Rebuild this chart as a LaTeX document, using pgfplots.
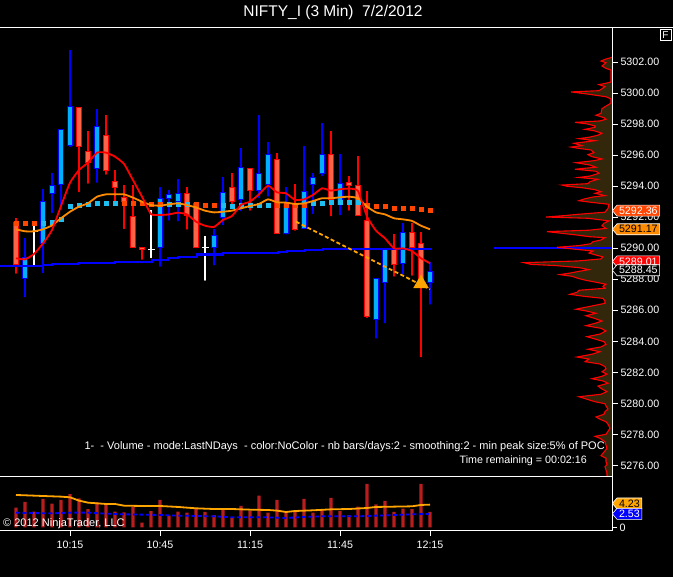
\documentclass[border=0pt]{standalone}
\usepackage{fontspec}
\setmainfont{Liberation Sans}
\usepackage{pgfplots}
\pgfplotsset{compat=1.18}
\usepackage{pgfplotstable}
\usetikzlibrary{shapes.symbols}

\definecolor{upfill}{RGB}{0,176,255}
\definecolor{dnfill}{RGB}{255,99,71}
\definecolor{dotred}{RGB}{255,69,0}
\definecolor{dotcyan}{RGB}{30,190,240}
\definecolor{profbrown}{RGB}{50,38,11}
\definecolor{volred}{RGB}{185,30,30}
\definecolor{darkorng}{RGB}{255,140,0}
\definecolor{lightorng}{RGB}{255,165,0}

\newcommand\tf{\fontsize{10.7}{12}\selectfont}

% candles: bar index, open, high, low, close
\pgfplotstableread{
i o h l c
1 5288.06 5290.64 5286.71 5289.39
3 5290.31 5293.79 5288.27 5293.00
4 5293.54 5294.82 5292.14 5294.05
5 5294.12 5297.66 5292.35 5297.66
6 5296.63 5302.77 5296.37 5299.14
9 5295.15 5298.97 5294.09 5297.85
16 5290.06 5293.92 5288.68 5293.21
17 5293.21 5293.75 5291.65 5293.47
18 5293.00 5294.44 5291.60 5293.54
22 5290.06 5291.26 5288.77 5290.83
23 5291.99 5294.57 5291.35 5293.60
25 5293.11 5296.44 5292.25 5295.21
27 5293.75 5298.59 5293.11 5294.83
28 5294.12 5296.87 5293.20 5296.05
30 5290.96 5293.93 5290.75 5292.79
32 5291.28 5296.59 5291.28 5293.65
33 5294.08 5294.83 5292.08 5294.55
34 5294.83 5298.05 5294.50 5296.05
36 5292.83 5296.07 5292.00 5294.16
40 5285.38 5288.04 5284.05 5288.04
41 5287.82 5289.97 5285.03 5289.97
43 5289.03 5291.60 5288.17 5291.03
46 5287.80 5289.14 5286.24 5288.49
}\upbars

\pgfplotstableread{
i o h l c
0 5291.65 5291.93 5288.23 5288.96
7 5299.08 5299.08 5293.49 5296.54
8 5296.20 5297.55 5294.03 5295.51
10 5297.27 5298.58 5294.61 5295.02
11 5294.29 5295.04 5292.74 5293.92
12 5293.26 5294.07 5291.11 5293.00
13 5292.05 5294.07 5290.00 5290.06
14 5290.06 5290.06 5289.13 5289.93
19 5293.54 5293.92 5291.07 5292.14
20 5292.89 5293.00 5289.88 5290.06
24 5293.93 5294.83 5292.46 5293.00
26 5295.15 5295.15 5292.29 5293.75
29 5295.73 5296.16 5290.92 5290.92
31 5292.79 5294.14 5291.00 5291.22
35 5296.05 5297.55 5291.93 5293.11
37 5294.25 5294.65 5292.29 5294.05
38 5294.03 5295.94 5292.00 5292.08
39 5291.80 5293.69 5285.38 5285.63
42 5289.95 5290.92 5288.04 5288.96
44 5291.03 5291.65 5288.10 5290.06
45 5290.29 5291.03 5282.84 5287.48
}\dnbars

\pgfplotstableread{
i o h l
2 5291.07 5291.43 5288.68
15 5289.93 5292.46 5289.24
21 5290.06 5290.79 5287.78
}\dojibars

% moving averages: red (fast), orange (slow)
\pgfplotstableread{
i r s
0 5289.35 5291.22
1 5289.28 5291.09
2 5289.63 5291.09
3 5290.31 5291.22
4 5291.17 5291.47
5 5292.72 5291.93
6 5294.22 5292.35
7 5295.04 5292.68
8 5295.51 5292.89
9 5296.16 5293.32
10 5296.16 5293.47
11 5295.90 5293.47
12 5295.43 5293.47
13 5294.39 5293.26
14 5293.32 5293.00
15 5292.20 5292.78
16 5292.14 5292.74
17 5292.18 5292.83
18 5292.29 5292.89
19 5292.18 5292.78
20 5291.71 5292.63
21 5291.45 5292.42
22 5291.37 5292.31
23 5291.82 5292.35
24 5292.08 5292.42
25 5292.79 5292.57
26 5293.00 5292.72
27 5293.47 5292.85
28 5294.03 5293.15
29 5293.60 5292.96
30 5293.54 5292.94
31 5293.11 5292.85
32 5293.15 5292.89
33 5293.43 5293.04
34 5293.86 5293.22
35 5293.71 5293.22
36 5293.80 5293.28
37 5293.84 5293.32
38 5293.69 5293.22
39 5292.04 5292.68
40 5291.13 5292.31
41 5290.64 5292.18
42 5289.99 5291.93
43 5289.99 5291.86
44 5289.82 5291.76
45 5289.35 5291.45
46 5289.03 5291.22
}\mas

\pgfplotstableread{
i p
-2 5288.88
3 5288.94
4 5288.98
6.9 5289.05
11 5289.13
15.1 5289.24
16.9 5289.37
18 5289.46
20.1 5289.59
23 5289.67
27 5289.71
29.1 5289.78
30.1 5289.84
32.1 5289.89
34.1 5289.97
46.2 5289.97
}\bluestep

\pgfplotstableread{
i p
0 5291.60
1 5291.60
2 5291.60
12 5292.93
13 5292.93
14 5292.87
15 5292.81
16 5292.81
20 5292.81
21 5292.74
22 5292.74
29 5292.79
30 5292.79
31 5292.79
32 5292.79
39 5292.79
40 5292.68
41 5292.68
42 5292.61
43 5292.61
44 5292.61
45 5292.51
46 5292.42
}\dotsred

\pgfplotstableread{
i p
3 5291.60
4 5291.67
5 5291.90
6 5292.68
7 5292.74
8 5292.83
9 5292.93
10 5292.93
11 5292.93
17 5292.81
18 5292.81
19 5292.83
23 5292.75
24 5292.72
25 5292.79
26 5292.79
27 5292.79
28 5292.79
33 5292.87
34 5292.87
35 5292.94
36 5292.94
37 5292.94
38 5292.94
}\dotscyan

% volume profile: width in px from the price scale, price
\pgfplotstableread{
w p
0 5302.30
7 5302.17
11 5302.06
6 5301.95
10 5301.74
6 5301.59
1 5301.48
1 5300.71
6 5300.63
13 5300.54
7 5300.41
13 5300.15
41 5300.07
30 5299.98
23 5299.92
6 5299.76
1 5299.62
1 5299.36
3 5299.27
7 5299.12
10 5298.99
11 5298.69
16 5298.57
8 5298.41
6 5298.31
12 5298.20
37 5298.11
25 5298.01
17 5297.88
17 5297.79
27 5297.66
18 5297.57
10 5297.41
14 5297.28
23 5297.15
33 5297.06
17 5296.93
38 5296.76
30 5296.61
41 5296.52
34 5296.44
21 5296.33
18 5296.16
24 5296.03
20 5295.90
10 5295.75
18 5295.64
36 5295.51
22 5295.36
16 5295.22
37 5295.09
16 5294.96
13 5294.83
22 5294.65
33 5294.56
14 5294.44
22 5294.29
24 5294.16
50 5294.07
45 5293.99
30 5293.90
17 5293.77
11 5293.64
17 5293.54
7 5293.39
19 5293.30
28 5293.17
33 5293.06
21 5292.96
3 5292.83
4 5292.57
7 5292.32
33 5292.19
48 5292.10
66 5292.01
24 5291.93
3 5291.76
8 5291.61
10 5291.45
6 5291.28
23 5291.16
65 5291.07
50 5290.96
35 5290.85
22 5290.74
7 5290.68
11 5290.53
19 5290.42
21 5290.29
33 5290.17
55 5290.06
39 5289.95
19 5289.82
23 5289.69
16 5289.56
9 5289.44
11 5289.31
34 5289.18
88 5289.07
81 5288.96
56 5288.88
33 5288.75
23 5288.62
33 5288.51
42 5288.40
52 5288.30
40 5288.19
34 5288.06
26 5287.93
16 5287.81
6 5287.68
9 5287.55
7 5287.42
33 5287.29
35 5287.16
42 5287.03
28 5286.90
9 5286.77
7 5286.60
7 5286.45
36 5286.07
26 5285.96
16 5285.81
26 5285.65
18 5285.49
10 5285.31
17 5285.16
26 5285.01
11 5284.84
6 5284.67
12 5284.47
25 5284.30
17 5284.15
8 5283.98
6 5283.81
11 5283.64
24 5283.49
12 5283.33
20 5283.17
35 5282.99
23 5282.86
27 5282.69
12 5282.54
7 5282.37
6 5282.22
10 5282.04
5 5281.89
10 5281.75
20 5281.59
9 5281.45
4 5281.30
14 5281.12
10 5280.93
5 5280.76
11 5280.59
33 5280.43
26 5280.29
17 5280.11
7 5279.98
6 5279.84
4 5279.64
7 5279.47
8 5279.30
16 5279.13
12 5278.98
6 5278.82
4 5278.66
2 5278.40
6 5278.01
17 5277.88
12 5277.75
7 5277.53
6 5277.32
5 5277.10
9 5276.79
11 5276.63
6 5276.47
6 5276.25
5 5276.08
7 5275.92
6 5275.71
5 5275.50
5 5275.33
0 5275.00
}\profile

% volume panel
\pgfplotstableread{
i v
0 3.67
1 4.72
2 2.93
3 5.28
4 4.41
5 5.09
6 6.20
7 5.40
8 3.42
9 4.66
10 4.29
11 2.93
12 2.81
13 3.86
14 0.90
15 3.05
16 5.09
17 2.19
18 2.93
19 2.75
20 3.55
21 2.87
22 2.31
23 3.36
24 1.82
25 3.98
26 3.05
27 5.89
28 2.75
29 5.09
30 2.93
31 2.93
32 5.28
33 2.75
34 3.36
35 5.46
36 3.05
37 2.31
38 3.86
39 8.06
40 4.29
41 4.91
42 2.87
43 3.48
44 3.42
45 8.06
46 2.87
}\vol

\pgfplotstableread{
i v
0 6.02
1 5.96
3 5.83
5 5.71
6 5.59
7 4.97
8 4.60
10 4.35
11 4.35
12 4.04
14 3.98
16 3.98
18 3.80
20 3.55
22 3.42
24 3.42
26 3.30
28 3.24
29 3.12
30 2.87
31 3.05
33 3.18
35 3.36
37 3.42
39 3.61
40 3.80
42 3.86
44 3.92
45 4.17
46 4.23
}\volslow

\pgfplotstableread{
i v
0 2.75
1 2.69
4 2.62
6 2.75
8 2.75
10 2.56
12 2.44
14 2.38
16 2.31
18 2.19
20 2.13
22 2.07
24 1.88
26 1.88
28 1.88
30 1.76
32 1.94
34 2.07
36 2.07
38 2.07
40 2.19
42 2.31
44 2.44
46 2.53
}\volfast

\pgfplotsset{
  pane/.style={scale only axis, width=614pt, height=449pt,
    at={(-2pt,100pt)}, anchor=south west,
    xmin=-2, xmax=66.222, ymin=5275.26, ymax=5304.19},
}
\tikzset{
  pricetag/.style={shape=signal, signal to=west, signal pointer angle=100,
    draw=white, line width=0.6pt, inner xsep=2pt, inner ysep=0.5pt,
    minimum height=11pt, anchor=west, font=\tf},
}

\begin{document}
\begin{tikzpicture}
\fill[black] (0,0) rectangle (673pt,577pt);
\begin{scope}
\clip (0,0) rectangle (673pt,577pt);

% volume profile on the right
\begin{axis}[pane, hide axis, xmin=0, xmax=614, x dir=reverse]
\addplot[fill=profbrown, draw=none] table[x=w, y=p] {\profile} -- cycle;
\addplot[blue, line width=2.4pt] coordinates {(118,5290.0) (0,5290.0)};
\addplot[red, line width=1.1pt] table[x=w, y=p] {\profile};
\end{axis}

% frame, price scale and wicks
\begin{axis}[pane,
  axis line style={white, line width=1pt},
  xtick=\empty,
  ytick={5276,5278,...,5302},
  ytick pos=right, yticklabel pos=right,
  tick align=outside, major tick length=6pt,
  major tick style={white, line width=0.8pt},
  yticklabel style={text=white, font=\tf, xshift=-1pt,
    /pgf/number format/fixed, /pgf/number format/fixed zerofill,
    /pgf/number format/precision=2, /pgf/number format/1000 sep={},
    /pgf/number format/assume math mode=true}]
\addplot[only marks, mark=none, error bars/.cd, y dir=plus, y explicit,
  error mark=none, error bar style={draw=blue, line width=1.2pt}]
  table[x=i, y=l, y error expr=\thisrow{h}-\thisrow{l}] {\upbars};
\addplot[only marks, mark=none, error bars/.cd, y dir=plus, y explicit,
  error mark=none, error bar style={draw=red, line width=1.2pt}]
  table[x=i, y=l, y error expr=\thisrow{h}-\thisrow{l}] {\dnbars};
\addplot[only marks, mark=none, error bars/.cd, y dir=plus, y explicit,
  error mark=none, error bar style={draw=white, line width=1.2pt}]
  table[x=i, y=l, y error expr=\thisrow{h}-\thisrow{l}] {\dojibars};
\addplot[only marks, mark=-, mark size=3.5pt, white, line width=1.2pt]
  table[x=i, y=o] {\dojibars};
\end{axis}

% up bodies
\begin{axis}[pane, hide axis, ybar stacked, bar width=5pt]
\addplot[draw=none, fill=none] table[x=i, y=o] {\upbars};
\addplot[draw=blue, fill=upfill, line width=1pt]
  table[x=i, y expr=\thisrow{c}-\thisrow{o}] {\upbars};
\end{axis}

% down bodies
\begin{axis}[pane, hide axis, ybar stacked, bar width=5pt]
\addplot[draw=none, fill=none] table[x=i, y=c] {\dnbars};
\addplot[draw=red, fill=dnfill, line width=1pt]
  table[x=i, y expr=\thisrow{o}-\thisrow{c}] {\dnbars};
\end{axis}

% indicators
\begin{axis}[pane, hide axis, clip mode=individual]
\addplot[const plot, blue, line width=2.2pt] table[x=i, y=p] {\bluestep};
\addplot[only marks, mark=square*, mark size=2pt, dotred] table[x=i, y=p] {\dotsred};
\addplot[only marks, mark=square*, mark size=2pt, dotcyan] table[x=i, y=p] {\dotscyan};
\addplot[darkorng, line width=1.8pt, smooth, tension=0.3] table[x=i, y=s] {\mas};
\addplot[red, line width=1.8pt, smooth, tension=0.3] table[x=i, y=r] {\mas};
\addplot[lightorng, line width=1.8pt, dash pattern=on 4pt off 2.5pt]
  coordinates {(31.1,5291.71) (46,5287.35)};
\addplot[only marks, mark=triangle*, mark size=8.5pt, lightorng]
  coordinates {(45,5287.72)};
\node[pricetag, fill=dotred, text=white] at (axis cs:66.222,5292.42) {5292.36};
\node[pricetag, fill=darkorng, text=black] at (axis cs:66.222,5291.22) {5291.17};
\node[pricetag, fill=red, text=white] at (axis cs:66.222,5289.15) {5289.01};
\node[pricetag, fill=black, text=white] at (axis cs:66.222,5288.58) {5288.45};
\end{axis}

% volume panel
\begin{axis}[scale only axis, width=614pt, height=54pt,
  at={(-2pt,46pt)}, anchor=south west,
  xmin=-2, xmax=66.222, ymin=-0.65, ymax=9.35,
  clip mode=individual,
  axis line style={white, line width=1pt},
  xtick={6,16,26,36,46}, xticklabels={10:15,10:45,11:15,11:45,12:15},
  xtick pos=bottom,
  ytick={0}, ytick pos=right, yticklabel pos=right,
  tick align=outside, major tick length=5pt,
  major tick style={white, line width=0.8pt},
  tick label style={text=white, font=\tf},
  yticklabel style={xshift=-1pt, /pgf/number format/assume math mode=true},
  xticklabel style={yshift=-2pt}]
\addplot[ybar, bar width=3.2pt, fill=volred, draw=none] table[x=i, y=v] {\vol};
\addplot[lightorng, line width=1.8pt] table[x=i, y=v] {\volslow};
\addplot[blue, line width=1.8pt, dash pattern=on 4pt off 2.5pt] table[x=i, y=v] {\volfast};
\node[pricetag, fill=lightorng, text=black] at (axis cs:66.222,4.45) {4.23};
\node[pricetag, fill=blue, text=white] at (axis cs:66.222,2.53) {2.53};
\end{axis}
\end{scope}

% texts
\draw[white, line width=1pt] (0,549pt) -- (673pt,549pt);
\node[text=white, font=\fontsize{15.5}{18}\selectfont] at (333pt,564pt) {NIFTY\_I (3 Min)\ \ 7/2/2012};
\node[draw=white, line width=0.8pt, fill=black, text=white, font=\fontsize{10}{11}\selectfont,
  inner sep=0pt, minimum width=11pt, minimum height=11pt] at (665.5pt,542pt) {F};
\node[anchor=east, text=white, font=\fontsize{11}{12}\selectfont, inner sep=0pt] at (605pt,130pt)
  {1-\ \ - Volume - mode:LastNDays\ \ - color:NoColor - nb bars/days:2 - smoothing:2 - min peak size:5\% of POC};
\node[anchor=east, text=white, font=\tf, inner sep=0pt] at (587pt,116pt)
  {Time remaining = 00:02:16};
\node[anchor=west, text=white, font=\fontsize{11}{12}\selectfont, inner sep=0pt] at (3pt,53pt)
  {© 2012 NinjaTrader, LLC};

\pgfresetboundingbox
\useasboundingbox (0,0) rectangle (673pt,577pt);
\end{tikzpicture}
\end{document}
